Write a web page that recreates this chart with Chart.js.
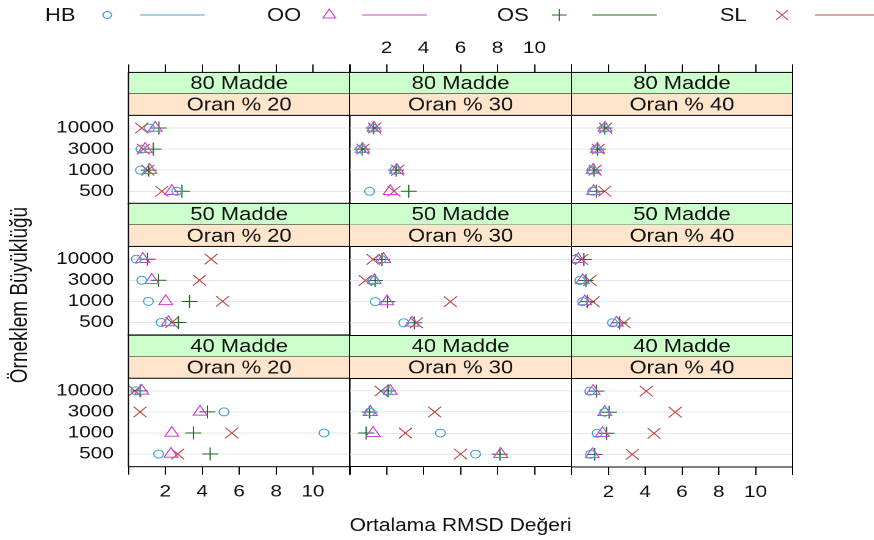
<!DOCTYPE html>
<html>
<head>
<meta charset="utf-8">
<script src="https://cdn.jsdelivr.net/npm/chart.js@4.4.1/dist/chart.umd.min.js"></script>
<style>
    html, body { margin: 0; padding: 0; background: #fff; }
    body { width: 874px; height: 540px; overflow: hidden; position: relative; font-family: "Liberation Sans", Arial, sans-serif; }
    /* the reference is stretched horizontally, so the whole figure is drawn narrow and widened */
    #stage { position: absolute; left: 0; top: 0; width: 717px; height: 540px; transform: scaleX(1.22); transform-origin: 0 0; }
    #stage canvas { position: absolute; }
    #ylab {
        position: absolute; left: -133.6px; top: 284px; width: 300px; height: 22px; line-height: 22px;
        text-align: center; font-size: 19px; color: #111; transform: rotate(-90deg);
    }
</style>
</head>
<body>
<div id="stage">
    <canvas id="legend"></canvas>
    <div id="ylab">Örneklem Büyüklüğü</div>
</div>
<script>
// Kategoriler
const sizeLabels = ["500", "1000", "3000", "10000"];
const maddeLabels = ["80 Madde", "50 Madde", "40 Madde"];
const oranLabels = ["Oran % 20", "Oran % 30", "Oran % 40"];
const methodNames = ["HB", "OO", "OS", "SL"];
const xTicks = [0, 2, 4, 6, 8, 10, 12];

// Panel sırası: 80/20, 80/30, 80/40, 50/20, 50/30, 50/40, 40/20, 40/30, 40/40
// her panelde [500, 1000, 3000, 10000]
const rmsdHB = [
    [2.62, 0.65, 0.68, 1.14], [1.08, 2.45, 0.6, 1.25], [1.15, 1.12, 1.35, 1.78],
    [1.77, 1.08, 0.72, 0.42], [2.93, 1.39, 1.27, 1.7], [2.22, 0.6, 0.45, 0.18],
    [1.63, 10.6, 5.18, 0.4], [6.81, 4.91, 1.1, 2.03], [1.03, 1.39, 1.8, 0.99]
];
const rmsdOO = [
    [2.35, 1.15, 0.9, 1.45], [2.2, 2.55, 0.7, 1.32], [1.2, 1.17, 1.4, 1.82],
    [2.17, 2.02, 1.27, 0.78], [3.38, 2.02, 1.34, 1.84], [2.44, 0.72, 0.6, 0.36],
    [2.3, 2.35, 3.88, 0.72], [8.17, 1.27, 1.12, 2.2], [1.13, 1.68, 1.8, 1.17]
];
const rmsdOS = [
    [2.9, 1.1, 1.35, 1.65], [3.2, 2.52, 0.68, 1.3], [1.35, 1.22, 1.42, 1.8],
    [2.71, 3.31, 1.63, 1.03], [3.5, 2.05, 1.38, 1.75], [2.62, 0.85, 0.78, 0.67],
    [4.43, 3.52, 4.28, 0.63], [8.13, 0.9, 1.08, 2.08], [1.26, 1.9, 2.04, 1.35]
];
const rmsdSL = [
    [1.81, 1.05, 0.81, 0.72], [2.4, 2.6, 0.72, 1.35], [1.8, 1.28, 1.45, 1.85],
    [2.35, 5.1, 3.85, 4.48], [3.61, 5.45, 0.85, 1.27], [2.85, 1.17, 0.99, 0.54],
    [2.67, 5.6, 0.63, 0.35], [6.0, 3.02, 4.6, 1.7], [3.3, 4.48, 5.63, 4.06]
];
const allSeries = [rmsdHB, rmsdOO, rmsdOS, rmsdSL];

// Görünüm
const methodColors = ["#3ea0d8", "#cc44cc", "#1b6b1b", "#c24a4a"];
const methodPoints = ["circle", "triangle", "cross", "crossRot"];
const methodRadius = [4, 6.5, 6.5, 7.5];
const FONT = '"Liberation Sans", Arial, sans-serif';

Chart.defaults.font.family = FONT;
Chart.defaults.color = "#111";

const stage = document.getElementById("stage");
const colLeft = 105, colW = 181.5, rowTop = 72, rowH = 131.5, stripH = 21.5;
const plotH = rowH - 2 * stripH;
const yMin = 0.4, yPlotMax = 4.6;
const yMax = yPlotMax + (yPlotMax - yMin) * 2 * stripH / plotH;

// Şeritler ve panel çerçevesi
const stripPlugin = {
    id: "strips",
    afterDraw(chart, args, opts) {
        const { ctx, chartArea: a } = chart;
        ctx.save();
        ctx.strokeStyle = "#000";
        ctx.lineWidth = 1;
        [[opts.top, "#ccffcc"], [opts.bottom, "#ffe5cc"]].forEach(([txt, bg], i) => {
            const y0 = a.top + i * stripH;
            ctx.fillStyle = bg;
            ctx.fillRect(a.left, y0, a.right - a.left, stripH);
            ctx.fillStyle = "#111";
            ctx.font = "18px " + FONT;
            ctx.textAlign = "center";
            ctx.textBaseline = "middle";
            ctx.fillText(txt, (a.left + a.right) / 2, y0 + stripH / 2 + 1);
            ctx.beginPath();
            ctx.moveTo(a.left, y0 + stripH);
            ctx.lineTo(a.right, y0 + stripH);
            ctx.stroke();
        });
        ctx.strokeRect(a.left, a.top, a.right - a.left, a.bottom - a.top);
        ctx.restore();
    }
};

function makePanel(r, c) {
    const k = r * 3 + c;
    const canvas = document.createElement("canvas");
    canvas.width = 260;
    canvas.height = 210;
    stage.appendChild(canvas);

    const datasets = methodNames.map((name, m) => ({
        label: name,
        data: sizeLabels.map((s, i) => ({ x: allSeries[m][k][i], y: i + 1 })),
        pointStyle: methodPoints[m],
        pointRadius: methodRadius[m],
        borderColor: methodColors[m],
        backgroundColor: "rgba(0,0,0,0)",
        borderWidth: 1,
        showLine: false
    }));

    const labelX = (r === 0 && c === 1) || (r === 2 && c !== 1);

    const chart = new Chart(canvas, {
        type: "scatter",
        data: { datasets },
        options: {
            responsive: false,
            maintainAspectRatio: false,
            animation: false,
            devicePixelRatio: 2,
            events: [],
            layout: { padding: 0 },
            plugins: {
                legend: { display: false },
                tooltip: { enabled: false },
                strips: { top: maddeLabels[r], bottom: oranLabels[c] }
            },
            scales: {
                x: {
                    type: "linear",
                    position: r === 0 ? "top" : "bottom",
                    display: r !== 1,
                    min: 0,
                    max: 12,
                    afterBuildTicks: (s) => { s.ticks = xTicks.map((v) => ({ value: v })); },
                    ticks: {
                        autoSkip: false,
                        maxRotation: 0,
                        padding: r === 0 ? 6 : 7,
                        font: { size: 17 },
                        callback: (v) => (labelX && v > 0 && v < 12) ? String(v) : ""
                    },
                    grid: { drawOnChartArea: false, drawTicks: true, tickLength: 8, color: "#000" },
                    border: { display: false },
                    title: {
                        display: r === 2 && c === 1,
                        text: "Ortalama RMSD Değeri",
                        font: { size: 18.5 },
                        padding: { top: 6, bottom: 0 }
                    }
                },
                y: {
                    type: "linear",
                    position: "left",
                    min: yMin,
                    max: yMax,
                    afterBuildTicks: (s) => { s.ticks = sizeLabels.map((_, i) => ({ value: i + 1 })); },
                    ticks: {
                        display: c === 0,
                        autoSkip: false,
                        padding: 12,
                        font: { size: 17 },
                        callback: (v) => sizeLabels[v - 1]
                    },
                    grid: { color: "#e6e6e6", drawTicks: false },
                    border: { display: false }
                }
            }
        },
        plugins: [stripPlugin]
    });

    // chartArea hücreye tam otursun diye tuvali yeniden boyutlandır
    for (let pass = 0; pass < 2; pass++) {
        const a = chart.chartArea;
        const exL = a.left, exT = a.top, exR = chart.width - a.right, exB = chart.height - a.bottom;
        chart.resize(colW + exL + exR, rowH + exT + exB);
    }
    const b = chart.chartArea;
    canvas.style.left = (colLeft + c * colW - b.left) + "px";
    canvas.style.top = (rowTop + r * rowH - b.top) + "px";
}

for (let r = 0; r < 3; r++) {
    for (let c = 0; c < 3; c++) makePanel(r, c);
}

// Lejant: etiket, simge, çizgi
function drawLegend() {
    const cv = document.getElementById("legend");
    const W = 717, H = 34;
    cv.width = W * 2;
    cv.height = H * 2;
    cv.style.width = W + "px";
    cv.style.height = H + "px";
    cv.style.left = "0px";
    cv.style.top = "0px";
    const ctx = cv.getContext("2d");
    ctx.scale(2, 2);
    const legendX = [36.9, 218.9, 407.4, 590];
    const y = 15;
    methodNames.forEach((name, m) => {
        const x0 = legendX[m];
        ctx.fillStyle = "#111";
        ctx.font = "18px " + FONT;
        ctx.textAlign = "left";
        ctx.textBaseline = "middle";
        ctx.fillText(name, x0, y + 1);

        ctx.strokeStyle = methodColors[m];
        ctx.fillStyle = "rgba(0,0,0,0)";
        ctx.lineWidth = 1;
        if (Chart.helpers && Chart.helpers.drawPoint) {
            Chart.helpers.drawPoint(ctx, {
                pointStyle: methodPoints[m],
                radius: m === 0 ? 3.5 : methodRadius[m] - 0.5,
                rotation: 0,
                borderWidth: 1
            }, x0 + 51, y);
        }
        ctx.beginPath();
        ctx.moveTo(x0 + 78, y);
        ctx.lineTo(x0 + 131, y);
        ctx.stroke();
    });
}
drawLegend();
</script>
</body>
</html>
